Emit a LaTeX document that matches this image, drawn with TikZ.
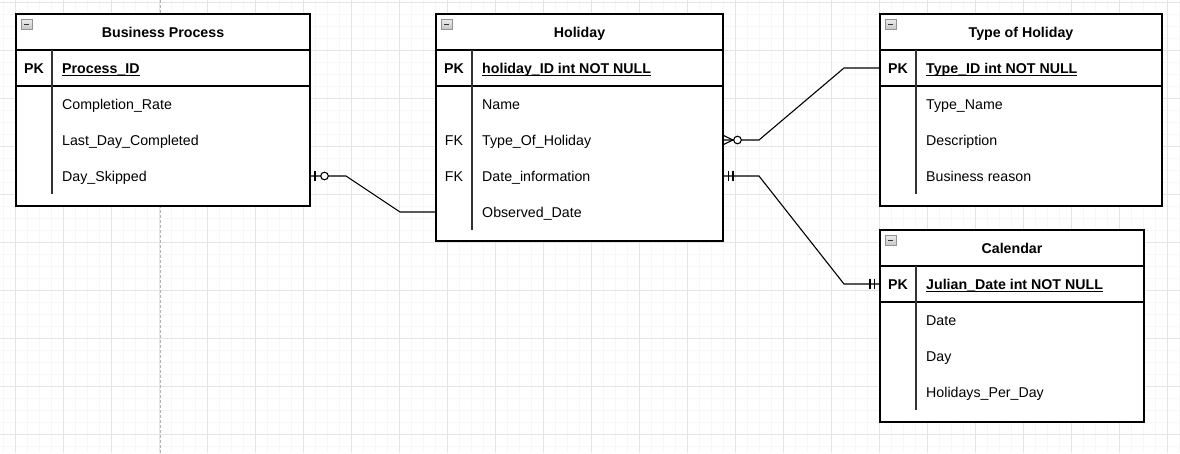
\documentclass[tikz,border=0pt]{standalone}
\usepackage{fontspec}
\setmainfont{Liberation Sans}
\usetikzlibrary{calc}
\definecolor{gmajor}{HTML}{E4E4E4}
\definecolor{gminor}{HTML}{F7F7F7}
\newcommand\ulkey[1]{\setbox0\hbox{#1}\rlap{\rule[-2.6pt]{\wd0}{1.1pt}}\box0}
\newcommand\ertab[7]{%
  \node[tbl, minimum width=#4pt, minimum height=#5pt] (#1) at (#2,#3) {};
  \draw[rowline] ($(#1.north west)+(0,36)$) -- ($(#1.north east)+(0,36)$);
  \draw[rowline] ($(#1.north west)+(0,72)$) -- ($(#1.north east)+(0,72)$);
  \draw[divline] ($(#1.north west)+(36,36)$) -- ++(0,#7);
  \node[ttl] (#1-ttl) at ($(#1.north)+(0,18)$) {#6};
  \draw[iconbox] ($(#1.north west)+(5.5,5)$) rectangle ++(10.5,10.5);
  \draw[iconbar] ($(#1.north west)+(8.2,10.25)$) -- ++(5.1,0);
}
\begin{document}
\begin{tikzpicture}[x=1pt,y=-1pt,
  every node/.style={font=\fontsize{14.2}{17}\selectfont},
  tbl/.style={draw=black, line width=1.3pt, inner sep=0pt, outer sep=0pt, anchor=north west, fill=white},
  rowline/.style={draw=black, line width=1.3pt},
  divline/.style={draw=black!80, line width=1.3pt},
  ttl/.style={anchor=center, inner sep=0pt, text height=11pt, text depth=0pt, font=\fontsize{14.2}{17}\selectfont\bfseries},
  fld/.style={anchor=west, inner sep=0pt, text height=11pt, text depth=0pt},
  keycol/.style={anchor=center, inner sep=0pt, text height=11pt, text depth=0pt},
  iconbox/.style={draw=gray!85, line width=0.8pt, top color=gray!15, bottom color=gray!45},
  iconbar/.style={draw=black!80, line width=1.5pt},
  conn/.style={draw=black, line width=1.1pt},
  gridminor/.style={draw=gminor, line width=0.7pt},
  gridmajor/.style={draw=gmajor, line width=0.9pt}]
\useasboundingbox (0,0) rectangle (1180,453);
\fill[white] (0,0) rectangle (1180,453);
% grid
\foreach \x in {3.5,15.5,...,1180} \draw[gridminor] (\x,0) -- (\x,453);
\foreach \y in {2,14,...,453} \draw[gridminor] (0,\y) -- (1180,\y);
\foreach \x in {15.5,63.5,...,1180} \draw[gridmajor] (\x,0) -- (\x,453);
\foreach \y in {2,50,...,453} \draw[gridmajor] (0,\y) -- (1180,\y);
\draw[draw=gray!60, line width=0.8pt, dash pattern=on 3pt off 2pt] (160,0) -- (160,453);

% Business Process
\ertab{bp}{16}{14}{294}{192}{Business Process}{144}
\node[keycol] (bp-pk) at (34,68) {\textbf{PK}};
\node[fld] (bp-pid) at (62,68) {\bfseries\ulkey{Process\_ID}};
\node[fld] (bp-rate) at (62,104) {Completion\_Rate};
\node[fld] (bp-last) at (62,140) {Last\_Day\_Completed};
\node[fld] (bp-skip) at (62,176) {Day\_Skipped};

% Holiday
\ertab{hol}{436}{14}{287}{227}{Holiday}{180}
\node[keycol] (hol-pk) at (454,68) {\textbf{PK}};
\node[fld] (hol-id) at (482,68) {\bfseries\ulkey{holiday\_ID int NOT NULL}};
\node[fld] (hol-name) at (482,104) {Name};
\node[keycol] (hol-fk1) at (454,140) {FK};
\node[fld] (hol-type) at (482,140) {Type\_Of\_Holiday};
\node[keycol] (hol-fk2) at (454,176) {FK};
\node[fld] (hol-date) at (482,176) {Date\_information};
\node[fld] (hol-obs) at (482,212) {Observed\_Date};

% Type of Holiday
\ertab{toh}{880}{14}{282}{192}{Type of Holiday}{144}
\node[keycol] (toh-pk) at (898,68) {\textbf{PK}};
\node[fld] (toh-id) at (926,68) {\bfseries\ulkey{Type\_ID int NOT NULL}};
\node[fld] (toh-name) at (926,104) {Type\_Name};
\node[fld] (toh-desc) at (926,140) {Description};
\node[fld] (toh-reason) at (926,176) {Business reason};

% Calendar
\ertab{cal}{880}{230}{264}{192}{Calendar}{144}
\node[keycol] (cal-pk) at (898,284) {\textbf{PK}};
\node[fld] (cal-id) at (926,284) {\bfseries\ulkey{Julian\_Date int NOT NULL}};
\node[fld] (cal-date) at (926,320) {Date};
\node[fld] (cal-day) at (926,356) {Day};
\node[fld] (cal-hpd) at (926,392) {Holidays\_Per\_Day};

% Connector: Business Process -> Holiday (zero or one)
\draw[conn] (bp.east |- bp-skip) -- ++(36,0) -- ($(hol.west |- hol-obs)+(-36,0)$) -- (hol.west |- hol-obs);
\draw[conn] ($(bp.east |- bp-skip)+(5,-5)$) -- ++(0,10);
\draw[conn, fill=white] ($(bp.east |- bp-skip)+(14.5,0)$) circle (3.8pt);

% Connector: Holiday -> Type of Holiday (zero or many)
\draw[conn] (hol.east |- hol-type) -- ++(36,0) -- ($(toh.west |- toh-id)+(-36,0)$) -- (toh.west |- toh-id);
\draw[conn] ($(hol.east |- hol-type)+(0.5,-4.5)$) -- ($(hol.east |- hol-type)+(10,0)$) -- ($(hol.east |- hol-type)+(0.5,4.5)$);
\draw[conn, fill=white] ($(hol.east |- hol-type)+(14.5,0)$) circle (3.8pt);

% Connector: Holiday -> Calendar (one and only one)
\draw[conn] (hol.east |- hol-date) -- ++(36,0) -- ($(cal.west |- cal-id)+(-36,0)$) -- (cal.west |- cal-id);
\draw[conn] ($(hol.east |- hol-date)+(5.5,-5)$) -- ++(0,10);
\draw[conn] ($(hol.east |- hol-date)+(10,-5)$) -- ++(0,10);
\draw[conn] ($(cal.west |- cal-id)+(-10,-5)$) -- ++(0,10);
\draw[conn] ($(cal.west |- cal-id)+(-5.5,-5)$) -- ++(0,10);
\end{tikzpicture}
\end{document}
